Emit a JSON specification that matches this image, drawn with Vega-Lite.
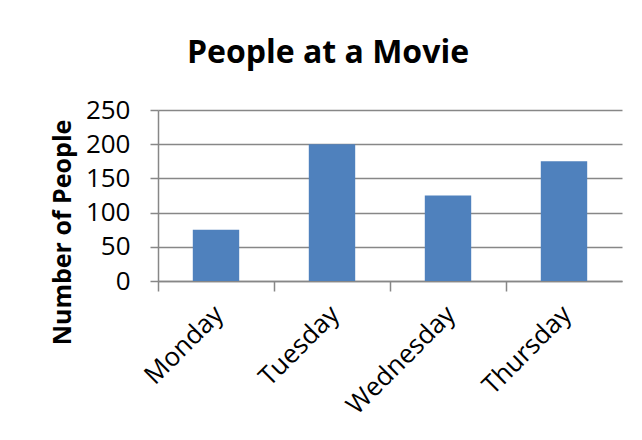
{
  "$schema": "https://vega.github.io/schema/vega-lite/v6.json",
  "autosize": "none",
  "width": 464,
  "height": 171,
  "padding": {"left": 158, "top": 110, "right": 20, "bottom": 159},
  "background": "white",
  "title": {
    "text": "People at a Movie",
    "font": "Open Sans",
    "fontSize": 32,
    "fontWeight": "bold",
    "color": "black",
    "anchor": "middle",
    "dx": -62,
    "offset": 27
  },
  "data": {
    "values": [
      {"day": "Monday", "people": 75},
      {"day": "Tuesday", "people": 200},
      {"day": "Wednesday", "people": 125},
      {"day": "Thursday", "people": 175}
    ]
  },
  "mark": {"type": "bar", "color": "#4F81BD"},
  "encoding": {
    "x": {
      "field": "day",
      "type": "nominal",
      "sort": null,
      "scale": {"paddingInner": 0.6, "paddingOuter": 0.3},
      "axis": {
        "title": null,
        "labelAngle": -45,
        "labelAlign": "right",
        "labelBaseline": "middle",
        "labelFont": "Open Sans",
        "labelFontSize": 26,
        "labelColor": "black",
        "labelPadding": 19,
        "labelOffset": 3,
        "bandPosition": -0.75,
        "tickSize": 10,
        "tickColor": "#878787",
        "tickWidth": 1.5,
        "domainColor": "#878787",
        "domainWidth": 1.5,
        "grid": false
      }
    },
    "y": {
      "field": "people",
      "type": "quantitative",
      "scale": {"domain": [0, 250], "nice": false},
      "axis": {
        "values": [0, 50, 100, 150, 200, 250],
        "title": "Number of People",
        "titleFont": "Open Sans",
        "titleFontSize": 25,
        "titleFontWeight": "bold",
        "titleColor": "black",
        "titleX": -96,
        "titleY": 122,
        "titleAngle": -90,
        "titleAlign": "center",
        "titleBaseline": "middle",
        "labelFont": "Open Sans",
        "labelFontSize": 26,
        "labelColor": "black",
        "labelPadding": 20,
        "tickSize": 8,
        "tickColor": "#878787",
        "tickWidth": 1.5,
        "domainColor": "#878787",
        "domainWidth": 1.5,
        "grid": true,
        "gridColor": "#878787",
        "gridWidth": 1.5
      }
    }
  },
  "config": {"view": {"stroke": null}}
}
